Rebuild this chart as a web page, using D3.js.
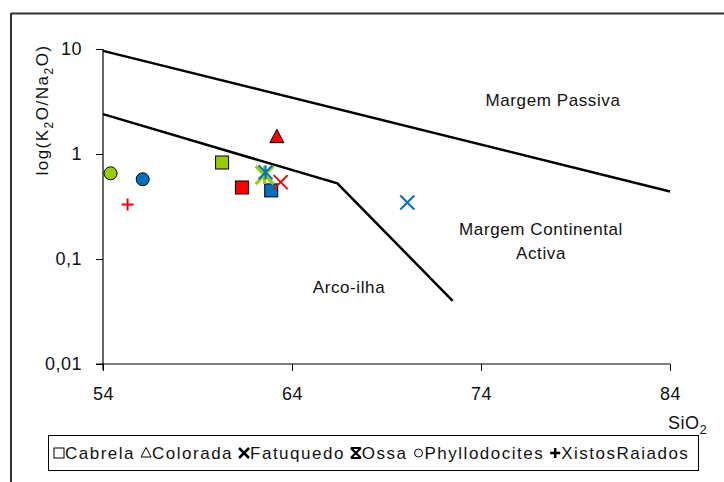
<!DOCTYPE html>
<html>
<head>
<meta charset="utf-8">
<script src="https://cdn.jsdelivr.net/npm/d3@7"></script>
<style>
	body { margin: 0; background: #fff; }
	svg { font-family: 'Liberation Sans', Arial, sans-serif; }
</style>
</head>
<body>
<div id="draw"></div>
<script>
// series: [SiO2, K2O/Na2O]
var cabrela = [[60.3, 0.83], [61.35, 0.48], [62.9, 0.45]];
var cabrelaColors = ['#99CC00', '#FF0000', '#0070C0'];
var colorada = [[63.2, 1.45]];
var coloradaColors = ['#FF0000'];
var fatuquedo = [[63.4, 0.54], [70.1, 0.345]];
var fatuquedoColors = ['#FF0000', '#0070C0'];
var ossa = [[62.55, 0.63], [62.6, 0.67]];
var ossaColors = ['#99CC00', '#0070C0'];
var phyllodocites = [[54.4, 0.655], [56.1, 0.575]];
var phyllodocitesColors = ['#99CC00', '#0070C0'];
var xistos = [[55.3, 0.33]];
var xistosColors = ['#FF0000'];

// field boundaries
var upperLine = [[54, 9.6], [84, 0.44]];
var lowerLine = [[54, 2.4], [66.4, 0.525], [72.5, 0.04]];

var xTicks = [54, 64, 74, 84];
var yTicks = [10, 1, 0.1, 0.01];
var yTickLabels = ['10', '1', '0,1', '0,01'];

var legendNames = ['Cabrela', 'Colorada', 'Fatuquedo', 'Ossa', 'Phyllodocites', 'XistosRaiados'];
var legendShapes = ['square', 'triangle', 'x', 'star', 'circle', 'plus'];

var W = 724, H = 482;
var svg = d3.select('#draw').append('svg').attr('width', W).attr('height', H);

// outer frame
svg.append('line').attr('x1', 11).attr('x2', W).attr('y1', 13.5).attr('y2', 13.5)
	.attr('stroke', '#333').attr('stroke-width', 2);
svg.append('line').attr('x1', 11).attr('x2', 11).attr('y1', 13).attr('y2', H)
	.attr('stroke', '#333').attr('stroke-width', 2);

var x = d3.scaleLinear().domain([54, 84]).range([103, 670]);
var y = d3.scaleLog().domain([0.01, 10]).range([364, 49]);

// axes
var xAxis = svg.append('g').attr('transform', 'translate(0,364)')
	.call(d3.axisBottom(x).tickValues(xTicks).tickSize(7).tickPadding(16).tickFormat(d3.format('d')));
var yAxis = svg.append('g').attr('transform', 'translate(103,0)')
	.call(d3.axisLeft(y).tickValues(yTicks).tickSize(7).tickPadding(14)
		.tickFormat(function (d, i) { return yTickLabels[i]; }));
[xAxis, yAxis].forEach(function (a) {
	a.select('.domain').attr('stroke', '#000').attr('stroke-width', 1.2);
	a.selectAll('line').attr('stroke', '#000');
	a.selectAll('text').style('font-size', '18px').style('letter-spacing', '0.5px').attr('fill', '#111');
});
xAxis.select('.domain').attr('d', 'M' + (x.range()[0] - 7) + ',0H' + x.range()[1]);
yAxis.select('.domain').attr('d', 'M0,' + y.range()[1] + 'V' + (y.range()[0] + 6));

// axis titles
var sx = svg.append('text').attr('x', 668).attr('y', 429).attr('fill', '#111')
	.style('font-size', '18px').style('letter-spacing', '0.5px');
sx.append('tspan').text('SiO');
sx.append('tspan').attr('dy', 5).style('font-size', '13px').text('2');

var yl = svg.append('text').attr('transform', 'translate(48,110) rotate(-90)').attr('fill', '#111')
	.attr('text-anchor', 'middle').style('font-size', '17px').style('letter-spacing', '1.5px');
yl.append('tspan').text('log(K');
yl.append('tspan').attr('dy', 5).style('font-size', '12px').text('2');
yl.append('tspan').attr('dy', -5).text('O/Na');
yl.append('tspan').attr('dy', 5).style('font-size', '12px').text('2');
yl.append('tspan').attr('dy', -5).text('O)');

// boundary lines
var line = d3.line().x(function (d) { return x(d[0]); }).y(function (d) { return y(d[1]); });
[upperLine, lowerLine].forEach(function (l) {
	svg.append('path').attr('d', line(l)).attr('fill', 'none')
		.attr('stroke', '#000').attr('stroke-width', 2.5);
});

// field labels
var fields = [['Margem Passiva', 553, 106], ['Margem Continental', 541, 235], ['Activa', 541, 259], ['Arco-ilha', 349, 293]];
fields.forEach(function (f) {
	svg.append('text').attr('x', f[1]).attr('y', f[2]).attr('text-anchor', 'middle')
		.style('font-size', '17px').style('letter-spacing', '0.6px').attr('fill', '#111').text(f[0]);
});

// markers
function drawMarker(g, shape, cx, cy, color, s, legend) {
	var fill = legend ? '#fff' : color;
	var sw = legend ? 2.5 : 2;
	if (shape === 'square') {
		g.append('rect').attr('x', cx - s).attr('y', cy - s).attr('width', 2 * s).attr('height', 2 * s)
			.attr('fill', fill).attr('stroke', '#000').attr('stroke-width', 1);
	} else if (shape === 'circle') {
		g.append('circle').attr('cx', cx).attr('cy', cy).attr('r', s)
			.attr('fill', fill).attr('stroke', '#000').attr('stroke-width', 1);
	} else if (shape === 'triangle') {
		g.append('path').attr('d', 'M' + cx + ',' + (cy - s * 1.1) + 'L' + (cx + s) + ',' + (cy + s * 0.8) + 'L' + (cx - s) + ',' + (cy + s * 0.8) + 'Z')
			.attr('fill', fill).attr('stroke', '#000').attr('stroke-width', 1);
	} else if (shape === 'x') {
		g.append('path').attr('d', 'M' + (cx - s) + ',' + (cy - s) + 'L' + (cx + s) + ',' + (cy + s) + 'M' + (cx + s) + ',' + (cy - s) + 'L' + (cx - s) + ',' + (cy + s))
			.attr('stroke', color).attr('stroke-width', sw);
	} else if (shape === 'star') {
		if (legend) {
			g.append('path').attr('d', 'M' + (cx - s) + ',' + (cy - s) + 'L' + (cx + s) + ',' + (cy + s) + 'M' + (cx + s) + ',' + (cy - s) + 'L' + (cx - s) + ',' + (cy + s) + 'M' + (cx - s) + ',' + (cy - s) + 'H' + (cx + s) + 'M' + (cx - s) + ',' + (cy + s) + 'H' + (cx + s))
				.attr('stroke', color).attr('stroke-width', 2.2);
		} else {
			g.append('path').attr('d', 'M' + (cx - s) + ',' + (cy - s) + 'L' + (cx + s) + ',' + (cy + s) + 'M' + (cx + s) + ',' + (cy - s) + 'L' + (cx - s) + ',' + (cy + s) + 'M' + cx + ',' + (cy - s) + 'V' + (cy + s))
				.attr('stroke', color).attr('stroke-width', color === '#99CC00' ? 3 : 2);
		}
	} else if (shape === 'plus') {
		g.append('path').attr('d', 'M' + (cx - s) + ',' + cy + 'H' + (cx + s) + 'M' + cx + ',' + (cy - s) + 'V' + (cy + s))
			.attr('stroke', color).attr('stroke-width', sw);
	}
}

var pts = svg.append('g');
var series = [
	[cabrela, cabrelaColors, 'square', 6.5],
	[colorada, coloradaColors, 'triangle', 7],
	[ossa, ossaColors, 'star', 7],
	[fatuquedo, fatuquedoColors, 'x', 7],
	[phyllodocites, phyllodocitesColors, 'circle', 6.5],
	[xistos, xistosColors, 'plus', 6]
];
series.forEach(function (s) {
	s[0].forEach(function (d, i) {
		var size = s[3];
		// the green Ossa sample is drawn bigger, as in the original
		if (s[2] === 'star' && s[1][i] === '#99CC00') size = 9;
		drawMarker(pts, s[2], x(d[0]), y(d[1]), s[1][i], size, false);
	});
});

// legend
var lg = svg.append('g');
lg.append('rect').attr('x', 48.5).attr('y', 435.5).attr('width', 650).attr('height', 35)
	.attr('fill', '#fff').attr('stroke', '#000').attr('stroke-width', 1);
var lx = 54;
legendNames.forEach(function (n, i) {
	drawMarker(lg, legendShapes[i], lx + 5, 453, '#000', legendShapes[i] === 'circle' ? 4 : 5, true);
	var t = lg.append('text').attr('x', lx + 11).attr('y', 459).attr('fill', '#111')
		.style('font-size', '17px').style('letter-spacing', '1.5px').text(n);
	lx += 11 + t.node().getComputedTextLength() + 6;
});
</script>
</body>
</html>
